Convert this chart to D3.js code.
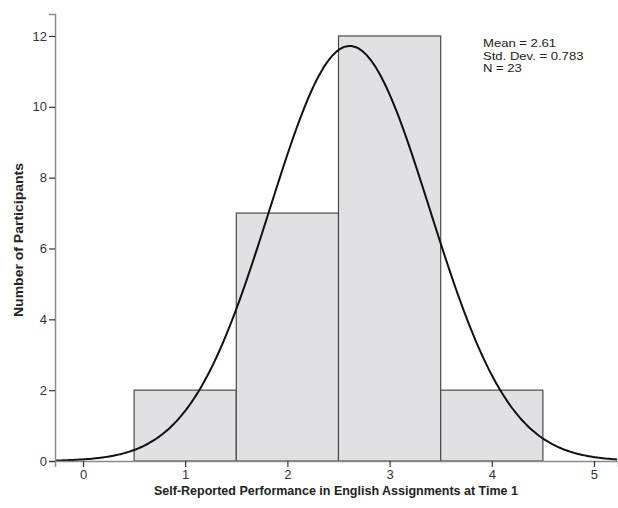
<!DOCTYPE html>
<html>
<head>
<meta charset="utf-8">
<script src="https://cdn.jsdelivr.net/npm/d3@7"></script>
<style>
  html, body { margin: 0; padding: 0; background: #ffffff; }
  svg { display: block; }
</style>
</head>
<body>
<div id="chart"></div>
<script>
// histogram bins (midpoints) and counts
const binCenters = [1, 2, 3, 4];
const binCounts = [2, 7, 12, 2];
const xTicks = [0, 1, 2, 3, 4, 5];
const yTicks = [0, 2, 4, 6, 8, 10, 12];
const statLines = ["Mean = 2.61", "Std. Dev. = 0.783", "N = 23"];
const mean = 2.61;
const sd = 0.783;
const n = 23;
const binWidth = 1;

const width = 618, height = 508;
const margin = { top: 14, right: 0, bottom: 47, left: 55 };
const font = "Liberation Sans, Arial, sans-serif";

const svg = d3.select("#chart").append("svg")
    .attr("width", width)
    .attr("height", height);

const x = d3.scaleLinear()
    .domain([-0.274, 5.235])
    .range([margin.left, width - margin.right]);

const y = d3.scaleLinear()
    .domain([0, 12.62])
    .range([height - margin.bottom, margin.top]);

// bars
svg.append("g").selectAll("rect")
    .data(binCenters)
    .enter()
    .append("rect")
    .attr("x", d => x(d - binWidth / 2))
    .attr("width", d => x(d + binWidth / 2) - x(d - binWidth / 2))
    .attr("y", (d, i) => y(binCounts[i]))
    .attr("height", (d, i) => y(0) - y(binCounts[i]))
    .attr("fill", "#e1e1e3")
    .attr("stroke", "#4a4a4a")
    .attr("stroke-width", 1.2);

// normal curve from the reported mean / sd / N
const curvePts = d3.range(-0.274, 5.24, 0.02).map(v => {
    const z = (v - mean) / sd;
    return [v, n * binWidth * Math.exp(-0.5 * z * z) / (sd * Math.sqrt(2 * Math.PI))];
});

svg.append("path")
    .datum(curvePts)
    .attr("fill", "none")
    .attr("stroke", "#111")
    .attr("stroke-width", 2)
    .attr("d", d3.line().x(d => x(d[0])).y(d => y(d[1])).curve(d3.curveBasis));

// axes
const xAxis = svg.append("g")
    .attr("transform", `translate(0,${y(0)})`)
    .call(d3.axisBottom(x).tickValues(xTicks).tickSize(6).tickPadding(3).tickFormat(d3.format("d")));
xAxis.select(".domain").attr("stroke", "#8a8a8a").attr("stroke-width", 1.5);
xAxis.selectAll(".tick line").attr("stroke", "#333").attr("stroke-width", 1.2);
xAxis.selectAll(".tick text")
    .attr("fill", "#333")
    .attr("font-family", font)
    .attr("font-size", "13px");

const yAxis = svg.append("g")
    .attr("transform", `translate(${x.range()[0]},0)`)
    .call(d3.axisLeft(y).tickValues(yTicks).tickSize(6).tickPadding(2).tickFormat(d3.format("d")));
yAxis.select(".domain").attr("stroke", "#8a8a8a").attr("stroke-width", 1.5);
yAxis.selectAll(".tick line").attr("stroke", "#333").attr("stroke-width", 1.2);
yAxis.selectAll(".tick text")
    .attr("fill", "#333")
    .attr("font-family", font)
    .attr("font-size", "13px");

// axis titles
svg.append("text")
    .attr("x", 336)
    .attr("y", 495)
    .attr("text-anchor", "middle")
    .attr("font-family", font)
    .attr("font-size", "12.5px")
    .attr("font-weight", "bold")
    .attr("fill", "#222")
    .text("Self-Reported Performance in English Assignments at Time 1");

svg.append("text")
    .attr("transform", "translate(23,240) rotate(-90)")
    .attr("text-anchor", "middle")
    .attr("font-family", font)
    .attr("font-size", "13px")
    .attr("font-weight", "bold")
    .attr("fill", "#222")
    .attr("textLength", 154)
    .attr("lengthAdjust", "spacingAndGlyphs")
    .text("Number of Participants");

// stats box (text is slightly stretched horizontally in the original)
svg.append("g")
    .attr("transform", "translate(483,0) scale(1.19,1)")
    .selectAll("text")
    .data(statLines)
    .enter()
    .append("text")
    .attr("x", 0)
    .attr("y", (d, i) => 47.5 + i * 12.3)
    .attr("font-family", font)
    .attr("font-size", "11px")
    .attr("fill", "#222")
    .text(d => d);
</script>
</body>
</html>
